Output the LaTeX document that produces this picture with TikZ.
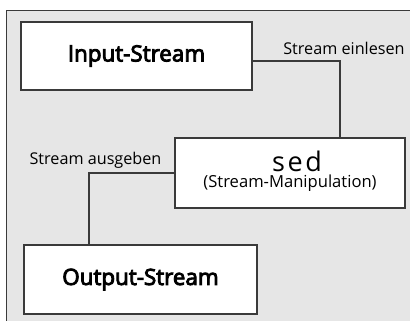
\documentclass[tikz,border=0pt]{standalone}
\usepackage{fontspec}
\setmainfont{Open Sans}
\newfontfamily\boxfamily[FakeBold=4]{Open Sans}
\definecolor{bggray}{HTML}{E6E6E6}
\definecolor{linegray}{HTML}{3A3A3A}
\begin{document}
\begin{tikzpicture}[x=0.5pt,y=-0.5pt,
  box/.style={draw=linegray, line width=0.6pt, fill=white, inner sep=0pt},
  boxfont/.style={font=\boxfamily\fontsize{11.2}{13}\selectfont},
  conn/.style={draw=linegray, line width=0.6pt},
  lbl/.style={font=\fontsize{8.1}{9}\selectfont, text=black, inner sep=0pt}]
\useasboundingbox (0,0) rectangle (410,320);
\draw[fill=bggray, draw=linegray, line width=0.6pt] (7,330) -- (7,11) -- (420,11);
\fill[bggray] (7.3,11.3) rectangle (420,330);
% boxes
\node[box, boxfont, minimum width=115.5pt, minimum height=34pt] (in) at (136.5,56) {Input-Stream};
\node[box, minimum width=115pt, minimum height=35pt] (sed) at (290,173) {};
\node[font=\fontsize{13.5}{15}\selectfont\addfontfeature{LetterSpace=10}, inner sep=0pt] (sedt) at (297,161) {sed};
\node[font=\fontsize{8.3}{9}\selectfont, inner sep=0pt] (sedsub) at (290,183) {(Stream-Manipulation)};
\node[box, boxfont, minimum width=116.5pt, minimum height=34.5pt] (out) at (140.5,279.5) {Output-Stream};
% connectors
\coordinate (c1) at (340,61);
\coordinate (c2) at (89,173);
\draw[conn] (in.east |- c1) -- (c1) -- (c1 |- sed.north);
\draw[conn] (sed.west |- c2) -- (c2) -- (c2 |- out.north);
% labels
\node[lbl] (l1) at (344,48) {Stream einlesen};
\node[lbl] (l2) at (95.5,160) {Stream ausgeben};
\end{tikzpicture}
\end{document}
